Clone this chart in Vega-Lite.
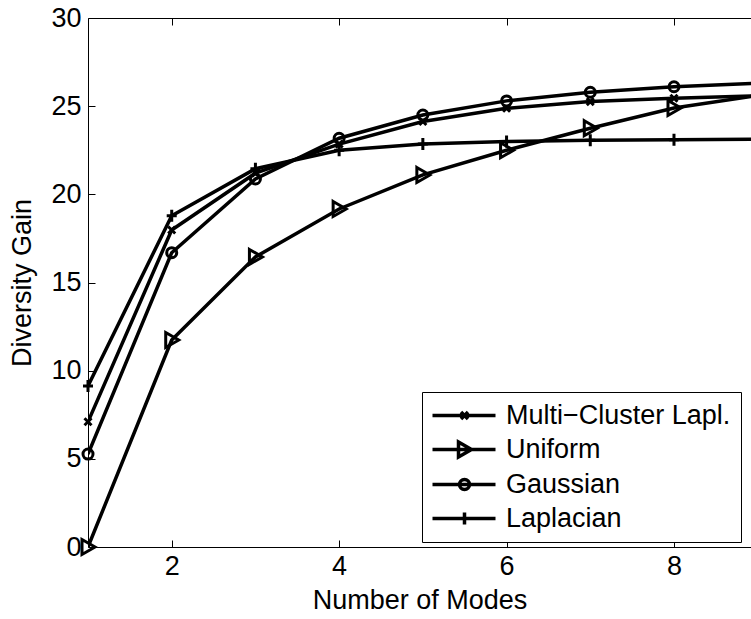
{
  "$schema": "https://vega.github.io/schema/vega-lite/v6.json",
  "width": 663,
  "height": 529,
  "autosize": {"type": "none"},
  "padding": {"left": 88, "top": 18, "right": 0, "bottom": 72},
  "background": "white",
  "config": {
    "view": {"stroke": null},
    "font": "Liberation Sans",
    "axis": {
      "grid": false,
      "domainColor": "black",
      "domainWidth": 1,
      "tickColor": "black",
      "tickWidth": 1,
      "labelColor": "black",
      "labelFont": "Liberation Sans",
      "labelFontSize": 27,
      "titleColor": "black",
      "titleFont": "Liberation Sans",
      "titleFontSize": 27,
      "titleFontWeight": "normal"
    }
  },
  "data": {
    "values": [
      {"modes": 1, "gain": 7.1, "series": "Multi−Cluster Lapl."},
      {"modes": 2, "gain": 17.98, "series": "Multi−Cluster Lapl."},
      {"modes": 3, "gain": 21.2, "series": "Multi−Cluster Lapl."},
      {"modes": 4, "gain": 22.85, "series": "Multi−Cluster Lapl."},
      {"modes": 5, "gain": 24.13, "series": "Multi−Cluster Lapl."},
      {"modes": 6, "gain": 24.88, "series": "Multi−Cluster Lapl."},
      {"modes": 7, "gain": 25.26, "series": "Multi−Cluster Lapl."},
      {"modes": 8, "gain": 25.45, "series": "Multi−Cluster Lapl."},
      {"modes": 9, "gain": 25.58, "series": "Multi−Cluster Lapl."},
      {"modes": 1, "gain": 0, "series": "Uniform"},
      {"modes": 2, "gain": 11.74, "series": "Uniform"},
      {"modes": 3, "gain": 16.45, "series": "Uniform"},
      {"modes": 4, "gain": 19.17, "series": "Uniform"},
      {"modes": 5, "gain": 21.1, "series": "Uniform"},
      {"modes": 6, "gain": 22.5, "series": "Uniform"},
      {"modes": 7, "gain": 23.75, "series": "Uniform"},
      {"modes": 8, "gain": 24.9, "series": "Uniform"},
      {"modes": 9, "gain": 25.6, "series": "Uniform"},
      {"modes": 1, "gain": 5.27, "series": "Gaussian"},
      {"modes": 2, "gain": 16.69, "series": "Gaussian"},
      {"modes": 3, "gain": 20.87, "series": "Gaussian"},
      {"modes": 4, "gain": 23.18, "series": "Gaussian"},
      {"modes": 5, "gain": 24.5, "series": "Gaussian"},
      {"modes": 6, "gain": 25.3, "series": "Gaussian"},
      {"modes": 7, "gain": 25.79, "series": "Gaussian"},
      {"modes": 8, "gain": 26.1, "series": "Gaussian"},
      {"modes": 9, "gain": 26.3, "series": "Gaussian"},
      {"modes": 1, "gain": 9.13, "series": "Laplacian"},
      {"modes": 2, "gain": 18.79, "series": "Laplacian"},
      {"modes": 3, "gain": 21.45, "series": "Laplacian"},
      {"modes": 4, "gain": 22.5, "series": "Laplacian"},
      {"modes": 5, "gain": 22.86, "series": "Laplacian"},
      {"modes": 6, "gain": 23.0, "series": "Laplacian"},
      {"modes": 7, "gain": 23.07, "series": "Laplacian"},
      {"modes": 8, "gain": 23.1, "series": "Laplacian"},
      {"modes": 9, "gain": 23.12, "series": "Laplacian"}
    ]
  },
  "layer": [
    {
      "mark": {"type": "line", "color": "black", "strokeWidth": 3.5, "clip": true},
      "encoding": {
        "x": {
          "field": "modes",
          "type": "quantitative",
          "scale": {"domain": [1, 8.92], "nice": false, "zero": false},
          "axis": {
            "orient": "bottom",
            "values": [2, 4, 6, 8],
            "tickSize": -7,
            "labelPadding": 13,
            "title": "Number of Modes",
            "titlePadding": 8
          }
        },
        "y": {
          "field": "gain",
          "type": "quantitative",
          "scale": {"domain": [0, 30], "nice": false, "zero": false},
          "axis": {
            "values": [0, 5, 10, 15, 20, 25, 30],
            "tickSize": -7,
            "labelPadding": 14,
            "title": "Diversity Gain",
            "titlePadding": 14
          }
        },
        "detail": {"field": "series"}
      }
    },
    {
      "transform": [{"filter": "datum.modes <= 8"}],
      "mark": {"type": "point", "filled": false, "stroke": "black", "strokeWidth": 3, "size": 100, "opacity": 1},
      "encoding": {
        "x": {
          "field": "modes",
          "type": "quantitative",
          "axis": {
            "orient": "top",
            "values": [2, 4, 6, 8],
            "tickSize": -7,
            "labels": false,
            "title": null
          }
        },
        "y": {
          "field": "gain",
          "type": "quantitative",
          "axis": {
            "values": [0, 5, 10, 15, 20, 25, 30],
            "tickSize": -7,
            "labelPadding": 14,
            "title": "Diversity Gain",
            "titlePadding": 14
          }
        },
        "shape": {
          "field": "series",
          "type": "nominal",
          "scale": {
            "domain": ["Multi−Cluster Lapl.", "Uniform", "Gaussian", "Laplacian"],
            "range": [
              "M-0.7,-0.7L0.7,0.7M-0.7,0.7L0.7,-0.7",
              "M-1.2,-1.5L1.4,0L-1.2,1.5Z",
              "M1,0A1,1,0,1,1,-1,0A1,1,0,1,1,1,0Z",
              "M-1,0L1,0M0,-1.2L0,1.2"
            ]
          },
          "legend": null
        }
      }
    },
    {
      "transform": [{"filter": "datum.modes > 100"}],
      "mark": {"type": "point", "filled": false, "stroke": "black", "strokeWidth": 3.5, "size": 100},
      "encoding": {
        "x": {"field": "modes", "type": "quantitative", "axis": null},
        "y": {
          "field": "gain",
          "type": "quantitative",
          "axis": {
            "values": [0, 5, 10, 15, 20, 25, 30],
            "tickSize": -7,
            "labelPadding": 14,
            "title": "Diversity Gain",
            "titlePadding": 14
          }
        },
        "shape": {
          "field": "series",
          "type": "nominal",
          "scale": {
            "domain": ["Multi−Cluster Lapl.", "Uniform", "Gaussian", "Laplacian"],
            "range": [
              "M-2.6,0L10,0M3.1,-0.7L4.5,0.7M3.1,0.7L4.5,-0.7",
              "M-2.6,0L10,0M2.6,-1.5L5.2,0L2.6,1.5Z",
              "M-2.6,0L10,0M4.8,0A1,1,0,1,1,2.8,0A1,1,0,1,1,4.8,0Z",
              "M-2.6,0L10,0M3.8,-1.2L3.8,1.2"
            ]
          },
          "legend": {
            "orient": "none",
            "legendX": 334,
            "legendY": 374,
            "title": null,
            "padding": 10,
            "strokeColor": "black",
            "fillColor": "white",
            "symbolSize": 100,
            "symbolStrokeWidth": 3.5,
            "symbolStrokeColor": "black",
            "symbolFillColor": "transparent",
            "symbolOpacity": 1,
            "labelFont": "Liberation Sans",
            "labelFontSize": 27,
            "labelColor": "black",
            "labelOffset": 47,
            "labelLimit": 400,
            "rowPadding": 6
          }
        }
      }
    }
  ],
  "resolve": {
    "axis": {"x": "independent"},
    "scale": {"shape": "independent"},
    "legend": {"shape": "independent"}
  }
}
